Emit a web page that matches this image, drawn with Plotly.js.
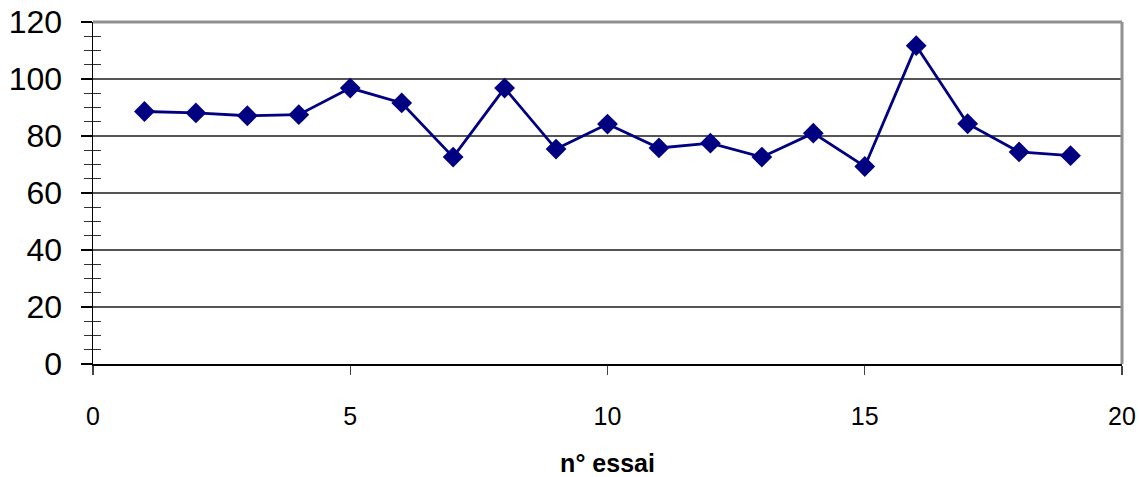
<!DOCTYPE html>
<html>
<head>
<meta charset="utf-8">
<script src="https://cdn.plot.ly/plotly-3.0.1.min.js"></script>
<style>html,body{margin:0;padding:0;background:#fff;}#chart{width:1141px;height:477px;}</style>
</head>
<body>
<div id="chart"></div>
<script>
const essai = [1,2,3,4,5,6,7,8,9,10,11,12,13,14,15,16,17,18,19];
const valeurs = [88.6,88.1,87.1,87.5,96.8,91.6,72.6,96.8,75.4,84.2,75.8,77.5,72.6,81.0,69.3,111.7,84.3,74.4,73.1];
const xTitle = "n° essai";
const yTicks = [0,20,40,60,80,100,120];
const xTicks = [0,5,10,15,20];
const yMinorTicks = [5,10,15,25,30,35,45,50,55,65,70,75,85,90,95,105,110,115];

const font = "Liberation Sans, Arial, sans-serif";

const data = [{
  x: essai, y: valeurs, type: 'scatter', mode: 'lines+markers',
  line: {color: '#000080', width: 2.8},
  marker: {symbol: 'diamond', size: 16, color: '#000080'},
  hoverinfo: 'skip'
}, {
  x: [0], y: [0], yaxis: 'y2', type: 'scatter', mode: 'markers',
  marker: {opacity: 0}, showlegend: false, hoverinfo: 'skip'
}];

const layout = {
  width: 1141, height: 477,
  margin: {l: 93, r: 19, t: 22, b: 113},
  paper_bgcolor: '#fff', plot_bgcolor: '#fff',
  showlegend: false,
  font: {family: font, color: '#000'},
  xaxis: {
    range: [0, 20], tickvals: xTicks, ticktext: xTicks.map(String),
    ticks: 'outside', ticklen: 9, tickwidth: 1.2, tickcolor: '#444',
    ticklabelstandoff: 20,
    showline: true, linecolor: '#000', linewidth: 1.5,
    showgrid: false, zeroline: false,
    tickfont: {size: 25, family: font},
    title: {text: xTitle, font: {size: 25, family: font, weight: 'bold'}, standoff: 28}
  },
  yaxis: {
    range: [0, 120], tickvals: yTicks, ticktext: yTicks.map(String),
    ticks: 'outside', ticklen: 11, tickwidth: 1.2, tickcolor: '#000',
    ticklabelstandoff: 12,
    minor: {tickvals: yMinorTicks, ticks: 'outside', ticklen: 8, tickwidth: 1.2, tickcolor: '#333', showgrid: false},
    showline: true, linecolor: '#000', linewidth: 1.5,
    showgrid: true, gridcolor: '#555', gridwidth: 1.3,
    zeroline: false,
    tickfont: {size: 32, family: font}
  },
  yaxis2: {
    overlaying: 'y', range: [0, 120], tickvals: yMinorTicks,
    ticks: 'inside', ticklen: 8, tickwidth: 1.2, tickcolor: '#333',
    showticklabels: false, showgrid: false, zeroline: false, showline: false
  },
  shapes: [
    {type: 'line', xref: 'paper', yref: 'paper', x0: 0, x1: 1, y0: 1, y1: 1, line: {color: '#909090', width: 3}},
    {type: 'line', xref: 'paper', yref: 'paper', x0: 1, x1: 1, y0: 0, y1: 1, line: {color: '#909090', width: 3}}
  ]
};

Plotly.newPlot('chart', data, layout, {displayModeBar: false, staticPlot: true});
</script>
</body>
</html>
